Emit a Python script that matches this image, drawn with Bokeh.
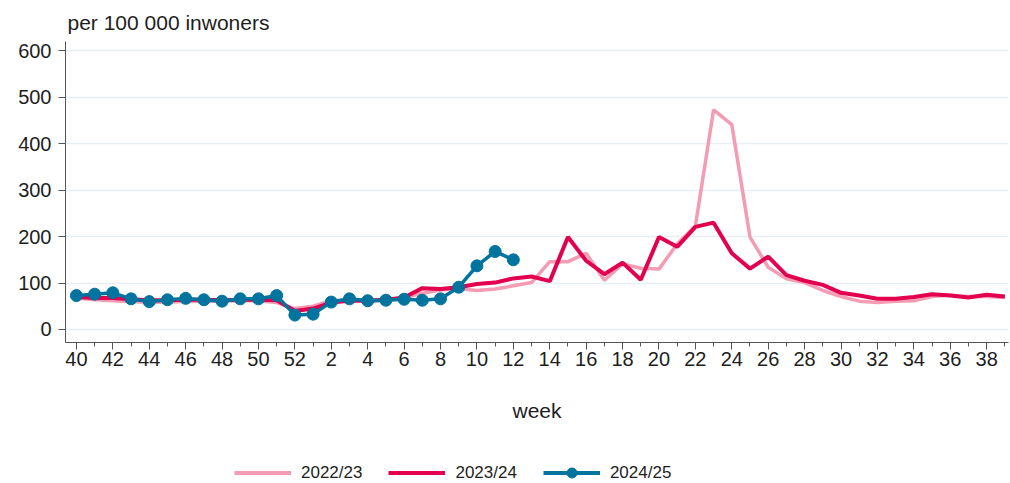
from bokeh.plotting import figure
from bokeh.models import Range1d, FixedTicker, Legend, LegendItem
from bokeh.layouts import column
from bokeh.embed import file_html
from bokeh.resources import INLINE

weeks = [40, 41, 42, 43, 44, 45, 46, 47, 48, 49, 50, 51, 52] + list(range(1, 40))

s2022 = [68, 64, 62, 60, 58, 59, 60, 61, 61, 62, 62, 58, 45, 50, 62, 64, 63, 64, 68, 78,
         85, 88, 84, 87, 94, 101, 146, 146, 164, 106, 141, 132, 130, 184, 223, 473, 441,
         199, 134, 109, 101, 84, 71, 61, 58, 61, 62, 71, 74, 71, 71, 69]
s2023 = [70, 68, 68, 65, 63, 63, 64, 64, 63, 64, 64, 63, 40, 45, 58, 62, 62, 64, 69, 89,
         87, 91, 98, 101, 110, 114, 104, 199, 148, 119, 144, 107, 199, 178, 221, 230, 164,
         131, 157, 117, 105, 96, 79, 73, 66, 66, 70, 76, 73, 69, 75, 71]
s2024 = [73, 76, 79, 66, 60, 64, 67, 64, 61, 66, 66, 73, 31, 33, 59, 66, 62, 63, 65, 63,
         66, 91, 137, 168, 150]

series_labels = ["2022/23", "2023/24", "2024/25"]
y_ticks = [0, 100, 200, 300, 400, 500, 600]

FONT = "Liberation Sans"
TXT = "#1e1e1e"
AX = "#555555"
PINK = "#f39cb3"
RED = "#e2004f"
BLUE = "#00739e"

x_all = list(range(len(weeks)))
x24 = list(range(len(s2024)))

p = figure(width=1010, height=440, output_backend="svg", toolbar_location=None,
           x_range=Range1d(-0.6, 51.2), y_range=Range1d(-28, 620),
           min_border_left=65, min_border_right=2, min_border_top=40, min_border_bottom=98)
p.outline_line_color = None
p.background_fill_color = "white"

p.title.text = "per 100 000 inwoners"
p.title.text_font = FONT
p.title.text_font_size = "21px"
p.title.text_font_style = "normal"
p.title.text_color = TXT
p.title.align = "left"
p.title.offset = 2
p.title.standoff = 16

p.xgrid.visible = False
p.ygrid.ticker = FixedTicker(ticks=y_ticks)
p.ygrid.grid_line_color = "#e7eff2"
p.ygrid.grid_line_width = 1.5

p.yaxis.ticker = FixedTicker(ticks=y_ticks)
p.yaxis.major_tick_in = 0
p.yaxis.major_tick_out = 7
p.yaxis.minor_tick_out = 0
p.yaxis.axis_line_color = AX
p.yaxis.major_tick_line_color = AX
p.yaxis.major_label_text_font = FONT
p.yaxis.major_label_text_font_size = "20px"
p.yaxis.major_label_text_color = TXT
p.yaxis.major_label_standoff = 7

p.xaxis.ticker = FixedTicker(ticks=list(range(0, 52, 2)), minor_ticks=list(range(1, 52, 2)))
p.xaxis.major_label_overrides = {i: str(weeks[i]) for i in range(0, 52, 2)}
p.xaxis.major_tick_in = 0
p.xaxis.major_tick_out = 7
p.xaxis.minor_tick_in = 0
p.xaxis.minor_tick_out = 4
p.xaxis.axis_line_color = AX
p.xaxis.major_tick_line_color = AX
p.xaxis.minor_tick_line_color = AX
p.xaxis.major_label_text_font = FONT
p.xaxis.major_label_text_font_size = "20px"
p.xaxis.major_label_text_color = TXT
p.xaxis.major_label_standoff = 2
p.xaxis.axis_label = "week"
p.xaxis.axis_label_text_font = FONT
p.xaxis.axis_label_text_font_size = "21px"
p.xaxis.axis_label_text_font_style = "normal"
p.xaxis.axis_label_text_color = TXT
p.xaxis.axis_label_standoff = 30

p.line(x_all, s2022, line_color=PINK, line_width=3.5)
p.line(x_all, s2023, line_color=RED, line_width=4)
p.line(x24, s2024, line_color=BLUE, line_width=3.5)
p.scatter(x24, s2024, size=12, fill_color=BLUE, line_color=BLUE)

# legend strip below the chart (series drawn outside its visible range, only swatches show)
lf = figure(width=1010, height=43, output_backend="svg", toolbar_location=None,
            x_axis_type=None, y_axis_type=None, min_border=0,
            x_range=Range1d(-0.6, 51.2), y_range=Range1d(-1000, -900))
lf.outline_line_color = None
lf.xgrid.visible = False
lf.ygrid.visible = False
l1 = lf.line(x_all, s2022, line_color=PINK, line_width=4)
l2 = lf.line(x_all, s2023, line_color=RED, line_width=4)
l3 = lf.line(x24, s2024, line_color=BLUE, line_width=4)
l4 = lf.scatter(x24, s2024, size=12, fill_color=BLUE, line_color=BLUE)

legend = Legend(items=[LegendItem(label=series_labels[0], renderers=[l1]),
                       LegendItem(label=series_labels[1], renderers=[l2]),
                       LegendItem(label=series_labels[2], renderers=[l3, l4])],
                orientation="horizontal", location=(169, -2))
legend.label_text_font = FONT
legend.label_text_font_size = "17px"
legend.label_text_color = TXT
legend.glyph_width = 57
legend.glyph_height = 25
legend.label_standoff = 10
legend.spacing = 26
legend.padding = 0
legend.margin = 0
legend.border_line_color = None
legend.background_fill_alpha = 0
lf.add_layout(legend, "center")

open("out.html", "w").write(file_html(column(p, lf, spacing=0), INLINE))
